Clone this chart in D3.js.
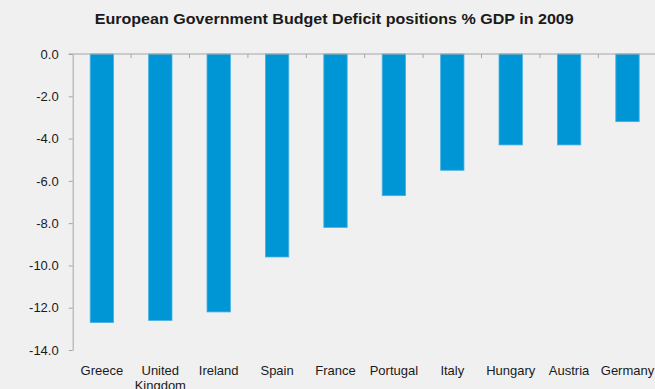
<!DOCTYPE html>
<html>
<head>
<meta charset="utf-8">
<script src="https://cdn.jsdelivr.net/npm/d3@7"></script>
<style>
  html, body { margin: 0; padding: 0; background: #f0f0f0; }
  svg { display: block; }
  text { font-family: "Liberation Sans", Arial, sans-serif; fill: #1a1a1a; }
</style>
</head>
<body>
<svg id="chart" width="655" height="389"></svg>
<script>
// Budget deficit by country, 2009 (% of GDP)
const categories = ["Greece", "United Kingdom", "Ireland", "Spain", "France",
                    "Portugal", "Italy", "Hungary", "Austria", "Germany"];
const deficits = [-12.7, -12.6, -12.2, -9.6, -8.2, -6.7, -5.5, -4.3, -4.3, -3.2];
const yTicks = [0, -2, -4, -6, -8, -10, -12, -14];
const title = "European Government Budget Deficit positions % GDP in 2009";

const W = 655, H = 389;
const margin = { left: 72.7, right: -1.7, top: 54, bottom: 39 };

const svg = d3.select("#chart");
svg.append("rect").attr("width", W).attr("height", H).attr("fill", "#f0f0f0");

const x = d3.scaleBand()
  .domain(categories)
  .range([margin.left, W - margin.right])
  .paddingInner(0.6)
  .paddingOuter(0.3);

const y = d3.scaleLinear()
  .domain([0, -14])
  .range([margin.top, H - margin.bottom]);

const step = x.step();
const x0 = margin.left;

// Title
svg.append("text")
  .attr("x", 94.7)
  .attr("y", 23.5)
  .attr("text-anchor", "start")
  .attr("textLength", 479)
  .attr("lengthAdjust", "spacingAndGlyphs")
  .style("font-weight", "bold")
  .style("font-size", "15.5px")
  .text(title);

// Bars
svg.append("g")
  .selectAll("rect")
  .data(categories.map((c, i) => ({ c, v: deficits[i] })))
  .join("rect")
  .attr("x", d => x(d.c))
  .attr("y", y(0))
  .attr("width", x.bandwidth())
  .attr("height", d => y(d.v) - y(0))
  .attr("fill", "#0096d6")
  .attr("stroke", "#45b0e2")
  .attr("stroke-width", 0.8);

const axisColor = "#a6a6a6";

// Y axis
const yAxis = svg.append("g")
  .attr("transform", `translate(${x0},0)`)
  .call(d3.axisLeft(y)
    .tickValues(yTicks)
    .tickFormat(d => d.toFixed(1))
    .tickSize(4)
    .tickSizeOuter(0)
    .tickPadding(10));
yAxis.select(".domain").attr("stroke", axisColor);
yAxis.selectAll(".tick line").attr("stroke", axisColor);
yAxis.selectAll(".tick text")
  .style("font-size", "13px")
  .attr("fill", "#1a1a1a")
  .style("font-family", "'Liberation Sans', Arial, sans-serif");

// Category axis along zero line, with boundary ticks
const xAxis = svg.append("g");
xAxis.append("line")
  .attr("x1", x0 - 4).attr("x2", W)
  .attr("y1", y(0)).attr("y2", y(0))
  .attr("stroke", axisColor);
xAxis.selectAll("line.bound")
  .data(d3.range(1, categories.length + 1))
  .join("line")
  .attr("class", "bound")
  .attr("x1", i => x0 + i * step).attr("x2", i => x0 + i * step)
  .attr("y1", y(0)).attr("y2", y(0) + 4)
  .attr("stroke", axisColor);

// Category labels, wrapped when wider than a band
const labels = svg.append("g")
  .selectAll("text")
  .data(categories)
  .join("text")
  .attr("x", d => x(d) + x.bandwidth() / 2)
  .attr("y", 375)
  .attr("text-anchor", "middle")
  .style("font-size", "13px");

labels.each(function(d) {
  const t = d3.select(this);
  t.text(d);
  if (this.getComputedTextLength() > step - 4 && d.includes(" ")) {
    t.text(null);
    d.split(" ").forEach((w, i) => {
      t.append("tspan")
        .attr("x", x(d) + x.bandwidth() / 2)
        .attr("dy", i === 0 ? 0 : 14.5)
        .text(w);
    });
  }
});
</script>
</body>
</html>
